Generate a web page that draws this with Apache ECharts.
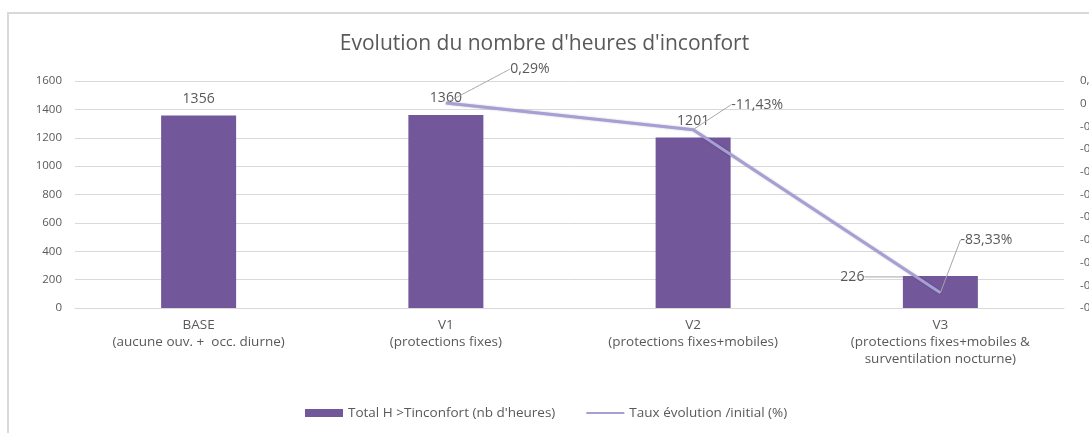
<!DOCTYPE html>
<html>
<head>
<meta charset="utf-8">
<script src="https://cdn.jsdelivr.net/npm/echarts@6/dist/echarts.min.js"></script>
<style>
  html, body { margin: 0; padding: 0; background: #fff; }
  #frame { position: absolute; left: 7px; top: 12px; width: 1100px; height: 440px;
           border-left: 2px solid #d9d9d9; border-top: 2px solid #d9d9d9; }
  #main { position: absolute; left: 0; top: 0; width: 1089px; height: 433px; }
</style>
</head>
<body>
<div id="frame"></div>
<div id="main"></div>
<script>
// donnees
var categories = [
  'BASE\n(aucune ouv. +  occ. diurne)',
  'V1\n(protections fixes)',
  'V2\n(protections fixes+mobiles)',
  'V3\n(protections fixes+mobiles &\nsurventilation nocturne)'
];
var heures = [1356, 1360, 1201, 226];
var taux = [null, 0.0029, -0.1143, -0.8333];
var leftTicks = [0, 1600, 200];
var rightTicks = [-0.9, 0.1, 0.1];

var nomBarres = "Total H >Tinconfort (nb d'heures)";
var nomLigne = 'Taux évolution /initial (%)';

// deplacement des etiquettes (comme dans excel)
var barLabelShift = { 3: [-88, 18] };
var lineLabelShift = { 1: [84, -22], 2: [64, -13], 3: [46, -41] };

var txt = '#595959';
var police = 'Open Sans';

var barData = heures.map(function (v, i) {
  return { value: v, labelLine: { show: !!barLabelShift[i] } };
});

var myChart = echarts.init(document.getElementById('main'));
var option = {
  textStyle: { fontFamily: police },
  title: {
    text: "Evolution du nombre d'heures d'inconfort",
    left: 'center', top: 29,
    textStyle: { fontFamily: police, fontSize: 21, fontWeight: 'normal', color: txt }
  },
  legend: {
    left: 300, top: 401,
    itemWidth: 38, itemHeight: 8, itemGap: 30,
    textStyle: { fontFamily: police, fontSize: 13.5, color: txt },
    data: [{ name: nomBarres, icon: 'rect' }, { name: nomLigne, itemStyle: { opacity: 0 } }]
  },
  grid: { left: 75, right: 25, top: 81, bottom: 125, outerBoundsMode: 'none' },
  xAxis: {
    type: 'category',
    data: categories,
    axisLine: { lineStyle: { color: '#d9d9d9', width: 1 } },
    axisTick: { show: false },
    axisLabel: { color: txt, fontSize: 13.5, lineHeight: 17, margin: 9, interval: 0 }
  },
  yAxis: [{
    type: 'value',
    min: leftTicks[0], max: leftTicks[1], interval: leftTicks[2],
    axisLine: { show: false },
    axisTick: { show: false },
    axisLabel: { color: txt, fontSize: 11.5, margin: 13, formatter: function (v) { return String(v); } },
    splitLine: { lineStyle: { color: '#d9d9d9' } }
  }, {
    type: 'value',
    min: rightTicks[0], max: rightTicks[1], interval: rightTicks[2],
    axisLine: { show: false },
    axisTick: { show: false },
    splitLine: { show: false },
    axisLabel: {
      color: txt, fontSize: 11.5, margin: 16,
      formatter: function (v) { return String(Math.round(v * 10) / 10).replace('.', ','); }
    }
  }],
  series: [{
    name: nomBarres,
    type: 'bar',
    data: barData,
    barWidth: 75,
    itemStyle: { color: '#72579b' },
    label: { show: true, position: 'top', distance: 10, color: txt, fontSize: 14 },
    labelLine: { lineStyle: { color: '#a6a6a6', width: 1 } },
    labelLayout: function (p) {
      var s = barLabelShift[p.dataIndex];
      return s ? { dx: s[0], dy: s[1] } : {};
    }
  }, {
    name: nomLigne,
    type: 'line',
    yAxisIndex: 1,
    data: taux,
    symbol: 'circle',
    symbolSize: 0.1,
    lineStyle: { color: '#a69fd6', width: 3, shadowColor: 'rgba(0,0,0,0.25)', shadowBlur: 2 },
    itemStyle: { color: '#a69fd6' },
    label: {
      show: true, position: 'top', color: txt, fontSize: 14,
      formatter: function (p) { return (p.value * 100).toFixed(2).replace('.', ',') + '%'; }
    },
    labelLine: { show: true, smooth: 0.3, lineStyle: { color: '#a6a6a6', width: 1 } },
    labelLayout: function (p) {
      var s = lineLabelShift[p.dataIndex];
      return s ? { dx: s[0], dy: s[1] } : {};
    }
  }]
};
myChart.setOption(option);
</script>
</body>
</html>
